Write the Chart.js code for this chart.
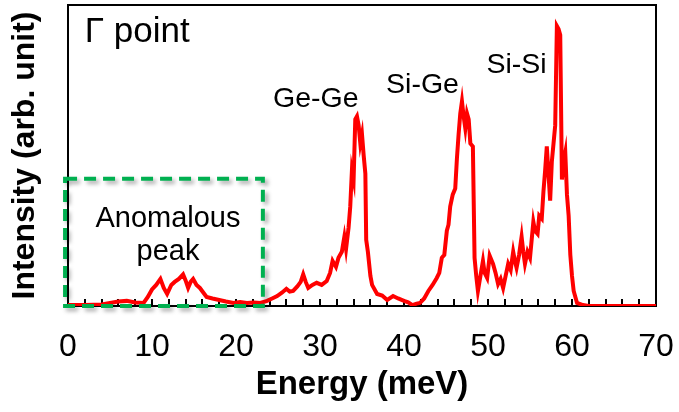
<!DOCTYPE html>
<html>
<head>
<meta charset="utf-8">
<title>Γ point phonon DOS</title>
<script src="https://cdn.jsdelivr.net/npm/chart.js@4.4.1/dist/chart.umd.min.js"></script>
<style>
  body { margin: 0; background: #ffffff; }
  #wrap { width: 679px; height: 412px; position: relative; }
</style>
</head>
<body>
<div id="wrap"><canvas id="dosChart"></canvas></div>
<script>
// Spectrum at the Γ point: energy (meV) and intensity (arb. unit)
const energy = [
  0, 2, 4, 5, 6, 7, 8, 9, 9.5, 10, 10.5, 11, 11.4, 11.8, 12.3, 12.7, 13.2, 13.7, 14, 14.3,
  14.6, 14.9, 15.3, 15.7, 16.1, 16.5, 17.2, 18, 18.8, 19.7, 20.5, 21.3, 22.1, 22.9, 23.7, 24.3,
  24.9, 25.5, 26, 26.4, 26.8, 27.3, 27.7, 28, 28.3, 28.6, 29.1, 29.6, 30.2, 30.8, 31.2, 31.5,
  31.9, 32.2, 32.6, 32.9, 33.1, 33.4, 33.6, 33.8, 34, 34.2, 34.4, 34.6, 34.8, 35, 35.2, 35.4,
  35.5, 35.7, 36, 36.2, 36.8, 37.4, 38, 38.7, 39.3, 40, 40.5, 41, 41.5, 41.9, 42.4, 42.9,
  43.4, 43.9, 44.2, 44.5, 44.8, 45.1, 45.3, 45.5, 45.8, 46.1, 46.3, 46.5, 46.7, 46.9, 47.1, 47.3,
  47.5, 47.7, 47.9, 48.2, 48.4, 48.6, 48.8, 49.1, 49.4, 49.6, 49.9, 50.2, 50.6, 50.9, 51.2, 51.5,
  51.8, 52.1, 52.4, 52.7, 53, 53.2, 53.4, 53.7, 54, 54.2, 54.4, 54.7, 55, 55.2, 55.4, 55.6,
  55.9, 56.1, 56.4, 56.6, 56.8, 57, 57.2, 57.4, 57.6, 57.8, 58, 58.2, 58.4, 58.6, 58.8, 59,
  59.2, 59.4, 59.6, 59.8, 60, 60.2, 60.6, 61.3, 62, 70
];
const intensity = [
  0.3, 0.3, 0.5, 1, 1.5, 1.7, 1.2, 1, 3, 5.5, 7, 9, 6, 4, 7, 8, 9, 10.5, 8.5, 6,
  8, 9, 7, 6, 4.5, 3, 2.5, 2, 1.5, 1, 1.3, 1, 1.2, 1, 1.7, 2.5,
  3.3, 4.5, 5.7, 4.8, 5, 6.5, 8, 10.5, 8, 6, 7, 7.7, 7, 8.3, 11, 15,
  13, 16, 18, 23, 19, 26, 33, 45, 42, 62, 63, 60, 54, 57, 50, 44,
  22, 18, 10, 7, 4, 3.5, 2, 3.3, 2.5, 1.7, 1.2, 0.3, 0.8, 1, 2.5, 5,
  7, 9.3, 11, 16, 17, 25, 27, 33, 37, 39, 49, 57, 64, 68, 63, 59,
  64, 62, 54, 53, 16, 10, 5, 10, 15, 11, 9.3, 16.7, 14, 11, 7.3, 9,
  6, 10, 14, 12, 18, 15, 12.7, 17, 23, 18, 14, 18, 16, 22, 28, 25,
  24, 30, 29, 38, 45, 53, 44, 35, 48, 54, 60, 93, 92, 90, 42, 48,
  51, 37, 30, 17, 10, 5, 1, 0.3, 0, 0
];
const xTicks = [0, 10, 20, 30, 40, 50, 60, 70];

// Peak labels: [text, energy, intensity]
const peakLabels = [
  ["Ge-Ge", 29.5, 68.7],
  ["Si-Ge", 42.2, 73.3],
  ["Si-Si", 53.4, 80]
];

const points = energy.map((e, i) => ({ x: e, y: intensity[i] }));

// Frame around the plot area plus small inward ticks every 2 meV
const framePlugin = {
  id: "frame",
  beforeDatasetsDraw(chart) {
    const { ctx, chartArea: a, scales: { x } } = chart;
    ctx.save();
    ctx.strokeStyle = "#000";
    ctx.lineWidth = 2;
    ctx.strokeRect(a.left, a.top, a.right - a.left, a.bottom - a.top);
    for (let v = 2; v < 70; v += 2) {
      const px = Math.round(x.getPixelForValue(v));
      ctx.beginPath();
      ctx.moveTo(px, a.bottom);
      ctx.lineTo(px, a.bottom - 7);
      ctx.stroke();
    }
    ctx.restore();
  }
};

// Text labels and the dashed box around the low-energy feature
const notesPlugin = {
  id: "notes",
  afterDatasetsDraw(chart) {
    const { ctx, scales: { x, y } } = chart;
    ctx.save();

    // dashed green box with soft shadow
    const bx0 = x.getPixelForValue(-0.35), bx1 = x.getPixelForValue(23.2);
    const by0 = y.getPixelForValue(42.3), by1 = y.getPixelForValue(0);
    ctx.shadowColor = "rgba(0,0,0,0.35)";
    ctx.shadowBlur = 4;
    ctx.shadowOffsetX = 3;
    ctx.shadowOffsetY = 3;
    ctx.strokeStyle = "#00B050";
    ctx.lineWidth = 4;
    ctx.setLineDash([12, 7]);
    ctx.strokeRect(bx0, by0, bx1 - bx0, by1 - by0);
    ctx.restore();

    ctx.save();
    ctx.fillStyle = "#000";
    ctx.textBaseline = "middle";
    ctx.textAlign = "center";
    ctx.font = "28.5px 'Liberation Sans', Arial, sans-serif";
    peakLabels.forEach(([t, e, v]) => {
      ctx.fillText(t, x.getPixelForValue(e), y.getPixelForValue(v));
    });
    ctx.font = "29px 'Liberation Sans', Arial, sans-serif";
    ctx.fillText("Anomalous", x.getPixelForValue(11.9), y.getPixelForValue(29));
    ctx.fillText("peak", x.getPixelForValue(11.9), y.getPixelForValue(18));

    ctx.textAlign = "left";
    ctx.font = "35px 'Liberation Sans', Arial, sans-serif";
    ctx.fillText("Γ point", x.getPixelForValue(2.0), y.getPixelForValue(90.8));
    ctx.restore();
  }
};

const ctx = document.getElementById("dosChart").getContext("2d");
new Chart(ctx, {
  type: "line",
  data: {
    datasets: [{
      data: points,
      borderColor: "#FF0000",
      borderWidth: 4,
      pointRadius: 0,
      tension: 0,
      fill: false
    }]
  },
  options: {
    responsive: true,
    maintainAspectRatio: false,
    animation: false,
    layout: { padding: { top: 5, right: 0, left: 0, bottom: 0 } },
    plugins: {
      legend: { display: false },
      tooltip: { enabled: false }
    },
    scales: {
      x: {
        type: "linear",
        min: 0,
        max: 70,
        afterBuildTicks: scale => { scale.ticks = xTicks.map(v => ({ value: v })); },
        afterFit: scale => {
          scale.height = 106;
          scale.paddingLeft = 0;
          scale.paddingRight = 23; // room for the "70" label
        },
        grid: { display: false, drawTicks: false },
        border: { display: false },
        ticks: {
          color: "#000",
          padding: 22,
          maxRotation: 0,
          autoSkip: false,
          font: { family: "'Liberation Sans', Arial, sans-serif", size: 32 }
        },
        title: {
          display: true,
          text: "Energy (meV)",
          color: "#000",
          padding: { top: 8, bottom: 7 },
          font: { family: "'Liberation Sans', Arial, sans-serif", size: 33, weight: "bold" }
        }
      },
      y: {
        min: 0,
        max: 100,
        afterFit: scale => { scale.width = 68; },
        grid: { display: false, drawTicks: false },
        border: { display: false },
        ticks: { display: false },
        title: {
          display: true,
          text: "Intensity (arb. unit)",
          color: "#000",
          padding: { top: 6, bottom: 0 },
          font: { family: "'Liberation Sans', Arial, sans-serif", size: 32, weight: "bold" }
        }
      }
    }
  },
  plugins: [framePlugin, notesPlugin]
});
</script>
</body>
</html>
